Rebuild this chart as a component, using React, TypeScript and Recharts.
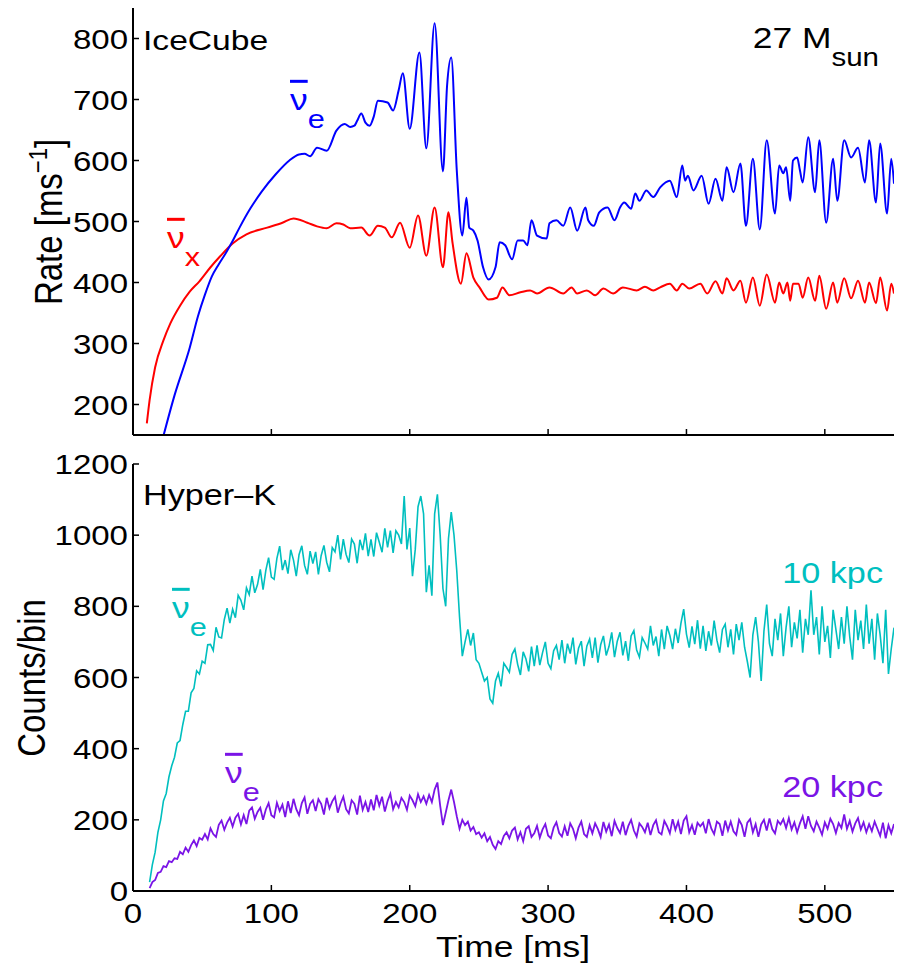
import { Line, LineChart, XAxis, YAxis } from 'recharts';

// IceCube rate, 27 Msun model
const iceAntiETime = [
  21, 30, 41, 47, 52, 57, 62, 67, 72, 77, 85, 93, 103, 113, 120, 124, 128, 133, 140, 147,
  153, 157, 160, 162, 165, 168, 171, 174, 177, 184, 188, 192, 195, 200, 207, 212, 218, 224, 227, 230,
  234, 238, 241, 243, 246, 249, 253, 257, 262, 265, 269, 274, 278, 282, 285, 288, 292, 299, 301, 306,
  311, 316, 321, 327, 329, 333, 337, 343, 348, 352, 355, 360, 363, 366, 371, 376, 381, 388, 393, 397,
  399, 401, 405, 411, 416, 421, 426, 429, 434, 439, 443, 448, 453, 458, 464, 467, 470, 472, 475, 477,
  480, 482, 484, 488, 493, 496, 501, 506, 509, 514, 519, 524, 529, 532, 537, 540, 545, 548, 550,
];
const iceAntiERate = [
  140, 215, 293, 345, 380, 410, 430, 448, 468, 490, 522, 549, 577, 600, 610, 611, 607, 621, 616, 649,
  660, 655, 657, 665, 677, 662, 657, 672, 698, 695, 682, 715, 743, 652, 777, 620, 825, 582, 723, 769,
  584, 477, 539, 490, 485, 469, 425, 405, 425, 466, 461, 438, 469, 469, 461, 502, 477, 472, 497, 502,
  493, 523, 485, 523, 502, 493, 515, 523, 502, 523, 531, 521, 546, 534, 551, 540, 556, 567, 540, 592,
  567, 575, 551, 575, 529, 570, 534, 589, 548, 595, 493, 603, 487, 633, 513, 592, 579, 589, 534, 600,
  605, 584, 564, 638, 548, 633, 498, 603, 534, 633, 605, 621, 564, 633, 531, 628, 513, 603, 562,
];

const iceAntiXTime = [
  10, 12, 16, 22, 27, 34, 41, 48, 56, 63, 72, 82, 97, 108, 116, 126, 133, 140, 147, 152,
  157, 165, 171, 177, 182, 187, 193, 200, 206, 212, 218, 224, 228, 231, 237, 241, 246, 251, 254, 257,
  263, 267, 272, 280, 287, 292, 301, 311, 317, 321, 328, 334, 340, 347, 354, 364, 370, 376, 381, 388,
  393, 397, 402, 410, 415, 421, 426, 429, 434, 439, 443, 448, 453, 458, 464, 467, 470, 473, 475, 477,
  481, 484, 488, 493, 496, 501, 506, 509, 514, 519, 524, 529, 532, 537, 540, 545, 548, 550,
];
const iceAntiXRate = [
  169, 207, 261, 305, 333, 362, 385, 402, 425, 443, 464, 479, 490, 498, 505, 498, 492, 489, 497, 495,
  489, 490, 477, 493, 490, 474, 498, 457, 510, 444, 523, 425, 515, 464, 398, 448, 408, 390, 379, 372,
  375, 392, 379, 384, 387, 382, 392, 382, 392, 382, 387, 379, 390, 382, 392, 387, 393, 387, 392, 398,
  387, 398, 390, 398, 382, 402, 382, 407, 387, 403, 367, 408, 362, 413, 367, 400, 382, 400, 370, 398,
  398, 375, 408, 370, 411, 357, 400, 367, 407, 374, 403, 367, 400, 366, 408, 354, 398, 382,
];

// Hyper-K counts per 2 ms bin, starting at 12 ms
const hkFirstBin = 12;
const hkBinWidth = 2;
const hk10kpc = [
  25, 74, 109, 165, 200, 253, 274, 321, 352, 376,
  416, 423, 468, 505, 505, 557, 569, 619, 610, 646,
  640, 692, 693, 676, 741, 714, 711, 763, 795, 753,
  792, 768, 831, 817, 790, 852, 833, 885, 838, 861,
  904, 847, 901, 937, 882, 876, 935, 969, 902, 930,
  892, 959, 930, 885, 945, 970, 915, 890, 955, 920,
  953, 890, 943, 971, 924, 897, 965, 953, 1000, 932,
  989, 946, 923, 989, 975, 921, 987, 958, 1005, 941,
  988, 940, 1007, 980, 952, 1019, 966, 1013, 950, 1012,
  1000, 975, 1110, 960, 1020, 885, 960, 1080, 1110, 1060,
  840, 915, 830, 1060, 1115, 1000, 850, 800, 990, 1065,
  1000, 900, 770, 660, 700, 735, 690, 725, 650, 640,
  615, 590, 600, 540, 528, 590, 612, 575, 640, 628,
  615, 665, 680, 637, 607, 672, 652, 617, 687, 632,
  690, 635, 670, 700, 640, 625, 675, 690, 650, 705,
  640, 695, 667, 712, 637, 682, 702, 632, 688, 708,
  655, 712, 642, 692, 717, 662, 687, 727, 657, 702,
  727, 662, 702, 647, 717, 732, 677, 657, 712, 697,
  680, 745, 690, 715, 660, 735, 680, 745, 718, 680,
  737, 697, 752, 792, 722, 684, 744, 694, 761, 681,
  745, 675, 730, 690, 760, 705, 670, 735, 750, 685,
  735, 665, 750, 705, 755, 685, 645, 600, 720, 770,
  700, 590, 730, 805, 695, 660, 765, 705, 780, 660,
  740, 800, 685, 755, 710, 790, 670, 765, 720, 845,
  720, 770, 665, 800, 700, 745, 655, 790, 735, 680,
  770, 695, 800, 715, 650, 790, 705, 760, 680, 805,
  695, 765, 650, 780, 720, 640, 790, 610, 680, 740,
];
const hk20kpc = [
  8, 25, 31, 51, 54, 70, 67, 84, 81, 92,
  90, 110, 103, 122, 110, 129, 142, 126, 149, 144,
  160, 145, 176, 160, 152, 186, 198, 172, 192, 206,
  181, 206, 217, 187, 213, 188, 226, 235, 203, 222,
  234, 200, 229, 247, 213, 207, 248, 225, 243, 208,
  252, 219, 259, 230, 213, 247, 263, 217, 245, 255,
  225, 258, 245, 215, 262, 232, 252, 265, 220, 246,
  265, 230, 218, 255, 245, 215, 268, 228, 250, 222,
  257, 227, 270, 240, 265, 223, 253, 273, 230, 250,
  235, 262, 250, 228, 268, 255, 238, 272, 250, 266,
  245, 270, 250, 285, 305, 240, 185, 220, 255, 285,
  250, 210, 175, 200, 185, 195, 170, 180, 160, 165,
  150, 162, 140, 152, 130, 118, 140, 132, 155, 165,
  148, 170, 178, 145, 165, 140, 175, 182, 152, 162,
  183, 150, 173, 188, 156, 148, 178, 193, 163, 153,
  182, 155, 190, 175, 148, 178, 195, 160, 152, 185,
  162, 190, 174, 152, 194, 167, 187, 154, 197, 177,
  163, 195, 157, 183, 200, 170, 153, 190, 180, 165,
  192, 157, 185, 199, 165, 159, 197, 182, 162, 202,
  172, 195, 160, 198, 210, 165, 185, 158, 192, 182,
  192, 162, 202, 175, 160, 195, 188, 155, 198, 170,
  195, 168, 158, 200, 185, 152, 192, 202, 165, 188,
  152, 187, 200, 170, 204, 174, 162, 197, 187, 202,
  177, 205, 173, 193, 165, 190, 210, 175, 210, 183,
  168, 195, 178, 158, 193, 175, 203, 188, 163, 191,
  177, 215, 175, 197, 167, 190, 205, 173, 193, 165,
  188, 168, 195, 175, 155, 192, 148, 185, 162, 188,
];

const timeTicks = [0, 100, 200, 300, 400, 500];
const rateTicks = [200, 300, 400, 500, 600, 700, 800];
const countTicks = [0, 200, 400, 600, 800, 1000, 1200];

const iceAntiE = iceAntiETime.map((t, i) => ({ t, v: iceAntiERate[i] }));
const iceAntiX = iceAntiXTime.map((t, i) => ({ t, v: iceAntiXRate[i] }));
const hyperK = hk10kpc.map((v, i) => ({
  t: hkFirstBin + hkBinWidth * i,
  near: v,
  far: hk20kpc[i],
}));

const FONT = '"Liberation Sans", Arial, Helvetica, sans-serif';
const SX = 1.18; // the figure's lettering is a bit wide
const TICK = 6;
const axisLine = { stroke: '#000', strokeWidth: 2 };

const leftTick = (labels: boolean) => (p: any) => (
  <g>
    <line x1={p.x} y1={p.y} x2={p.x + TICK} y2={p.y} stroke="#000" strokeWidth={1.5} />
    {labels && (
      <text
        transform={`translate(${p.x - 5},${p.y + 10}) scale(${SX},1)`}
        textAnchor="end"
        fontSize={28}
        fontFamily={FONT}
        fill="#000"
      >
        {p.payload.value}
      </text>
    )}
  </g>
);

const rightTick = (p: any) => (
  <line x1={p.x} y1={p.y} x2={p.x - TICK} y2={p.y} stroke="#000" strokeWidth={1.5} />
);

const bottomTick = (labels: boolean) => (p: any) => (
  <g>
    <line x1={p.x} y1={p.y} x2={p.x} y2={p.y - TICK} stroke="#000" strokeWidth={1.5} />
    {labels && (
      <text
        transform={`translate(${p.x},${p.y + 32}) scale(${SX},1)`}
        textAnchor="middle"
        fontSize={28}
        fontFamily={FONT}
        fill="#000"
      >
        {p.payload.value}
      </text>
    )}
  </g>
);

const topTick = (p: any) => (
  <line x1={p.x} y1={p.y} x2={p.x} y2={p.y + TICK} stroke="#000" strokeWidth={1.5} />
);

const Txt = ({ x, y, size, color = '#000', anchor = 'start', children }: any) => (
  <text
    transform={`translate(${x},${y}) scale(${SX},1)`}
    fontSize={size}
    fill={color}
    textAnchor={anchor}
    fontFamily={FONT}
  >
    {children}
  </text>
);

// nu-bar with a subscript, the bar drawn as an overline on the nu
const NuBar = ({ x, y, color, sub }: any) => (
  <Txt x={x} y={y} size={30} color={color}>
    <tspan style={{ textDecoration: 'overline' }}>ν</tspan>
    <tspan fontSize={26} dy={18}>
      {sub}
    </tspan>
  </Txt>
);

const App = () => (
  <div
    style={{
      position: 'absolute',
      left: 0,
      top: 0,
      width: 904,
      height: 965,
      background: '#fff',
      overflow: 'hidden',
    }}
  >
    <div style={{ position: 'absolute', left: 0, top: 0 }}>
      <LineChart width={904} height={450} margin={{ top: 8, right: 10, bottom: 0, left: 0 }}>
        <XAxis
          dataKey="t"
          type="number"
          domain={[0, 550]}
          ticks={timeTicks}
          interval={0}
          height={15}
          tickSize={0}
          tickMargin={0}
          axisLine={axisLine}
          tickLine={false}
          tick={bottomTick(false)}
          allowDataOverflow
        />
        <XAxis
          xAxisId="top"
          orientation="top"
          dataKey="t"
          type="number"
          domain={[0, 550]}
          ticks={timeTicks}
          interval={0}
          height={0}
          tickSize={0}
          tickMargin={0}
          axisLine={axisLine}
          tickLine={false}
          tick={topTick}
          allowDataOverflow
        />
        <YAxis
          type="number"
          domain={[150, 850]}
          ticks={rateTicks}
          interval={0}
          width={133}
          tickSize={0}
          tickMargin={0}
          axisLine={axisLine}
          tickLine={false}
          tick={leftTick(true)}
          allowDataOverflow
        />
        <YAxis
          yAxisId="right"
          orientation="right"
          type="number"
          domain={[150, 850]}
          ticks={rateTicks}
          interval={0}
          width={0}
          tickSize={0}
          tickMargin={0}
          axisLine={axisLine}
          tickLine={false}
          tick={rightTick}
          allowDataOverflow
        />
        <Line
          data={iceAntiX}
          dataKey="v"
          type="monotone"
          stroke="#ff0000"
          strokeWidth={2}
          dot={false}
          isAnimationActive={false}
        />
        <Line
          data={iceAntiE}
          dataKey="v"
          type="monotone"
          stroke="#0000ff"
          strokeWidth={2}
          dot={false}
          isAnimationActive={false}
        />
      </LineChart>
    </div>

    <div style={{ position: 'absolute', left: 0, top: 440 }}>
      <LineChart
        width={904}
        height={525}
        data={hyperK}
        margin={{ top: 24, right: 10, bottom: 0, left: 0 }}
      >
        <XAxis
          dataKey="t"
          type="number"
          domain={[0, 550]}
          ticks={timeTicks}
          interval={0}
          height={74}
          tickSize={0}
          tickMargin={0}
          axisLine={axisLine}
          tickLine={false}
          tick={bottomTick(true)}
          allowDataOverflow
        />
        <XAxis
          xAxisId="top"
          orientation="top"
          dataKey="t"
          type="number"
          domain={[0, 550]}
          ticks={timeTicks}
          interval={0}
          height={0}
          tickSize={0}
          tickMargin={0}
          axisLine={axisLine}
          tickLine={false}
          tick={topTick}
          allowDataOverflow
        />
        <YAxis
          type="number"
          domain={[0, 1200]}
          ticks={countTicks}
          interval={0}
          width={133}
          tickSize={0}
          tickMargin={0}
          axisLine={axisLine}
          tickLine={false}
          tick={leftTick(true)}
          allowDataOverflow
        />
        <YAxis
          yAxisId="right"
          orientation="right"
          type="number"
          domain={[0, 1200]}
          ticks={countTicks}
          interval={0}
          width={0}
          tickSize={0}
          tickMargin={0}
          axisLine={axisLine}
          tickLine={false}
          tick={rightTick}
          allowDataOverflow
        />
        <Line
          dataKey="near"
          type="linear"
          stroke="#00bfbf"
          strokeWidth={1.6}
          dot={false}
          isAnimationActive={false}
        />
        <Line
          dataKey="far"
          type="linear"
          stroke="#7a14e6"
          strokeWidth={1.8}
          dot={false}
          isAnimationActive={false}
        />
      </LineChart>
    </div>

    <svg
      width={904}
      height={965}
      style={{ position: 'absolute', left: 0, top: 0, pointerEvents: 'none' }}
    >
      <Txt x={143} y={50} size={28.5}>IceCube</Txt>
      <Txt x={879} y={48} size={30} anchor="end">
        27 M<tspan fontSize={25} dy={18}>sun</tspan>
      </Txt>
      <NuBar x={290} y={110} color="#0000ff" sub="e" />
      <NuBar x={167} y={248} color="#ff0000" sub="x" />

      <Txt x={143} y={505} size={29}>Hyper–K</Txt>
      <NuBar x={172} y={618} color="#00bfbf" sub="e" />
      <NuBar x={225} y={783} color="#7a14e6" sub="e" />
      <Txt x={883} y={583} size={29} color="#00bfbf" anchor="end">10 kpc</Txt>
      <Txt x={883} y={797} size={29} color="#7a14e6" anchor="end">20 kpc</Txt>

      <Txt x={513} y={957} size={30} anchor="middle">Time [ms]</Txt>
      <text
        transform={`translate(62,222) scale(${SX},1) rotate(-90)`}
        fontSize={33}
        textAnchor="middle"
        fontFamily={FONT}
        fill="#000"
      >
        Rate [ms
        <tspan fontSize={22} dy={-13}>−1</tspan>
        <tspan dy={13}>]</tspan>
      </text>
      <text
        transform={`translate(45,678) scale(${SX},1) rotate(-90)`}
        fontSize={33}
        textAnchor="middle"
        fontFamily={FONT}
        fill="#000"
      >
        Counts/bin
      </text>
    </svg>
  </div>
);

export default App;
